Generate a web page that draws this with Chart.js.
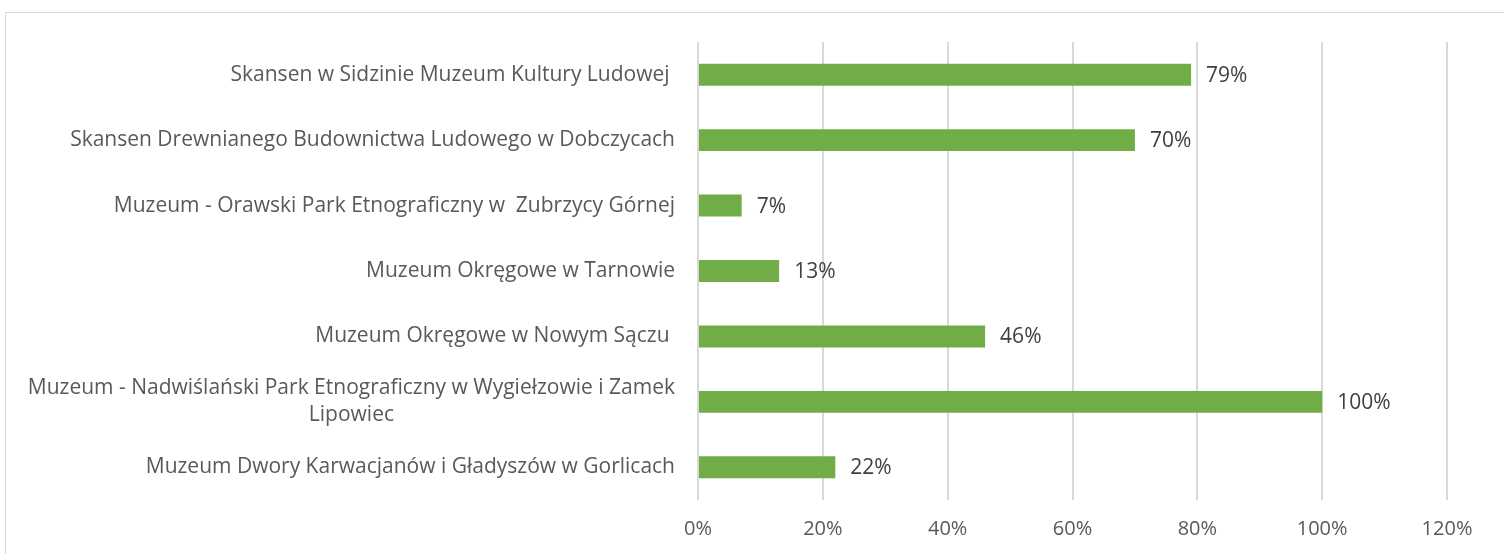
<!DOCTYPE html>
<html>
<head>
<meta charset="utf-8">
<script src="https://cdn.jsdelivr.net/npm/chart.js@4"></script>
<style>
  body { margin: 0; background: #fff; }
  #wrap { position: relative; width: 1504px; height: 554px; }
  #frame { position: absolute; left: 5px; top: 12px; width: 1500px; height: 560px; border: 1px solid #d9d9d9; pointer-events: none; }
</style>
</head>
<body>
<div id="wrap">
  <canvas id="wykres" width="1504" height="554"></canvas>
  <div id="frame"></div>
</div>
<script>
const muzea = [
    ['Skansen w Sidzinie Muzeum Kultury Ludowej '],
    ['Skansen Drewnianego Budownictwa Ludowego w Dobczycach'],
    ['Muzeum - Orawski Park Etnograficzny w  Zubrzycy Górnej'],
    ['Muzeum Okręgowe w Tarnowie'],
    ['Muzeum Okręgowe w Nowym Sączu '],
    ['Muzeum - Nadwiślański Park Etnograficzny w Wygiełzowie i Zamek', 'Lipowiec'],
    ['Muzeum Dwory Karwacjanów i Gładyszów w Gorlicach']
];
const procenty = [79, 70, 7, 13, 46, 100, 22];
const osX = [0, 20, 40, 60, 80, 100, 120];

const FONT = '21px "Open Sans"';
const TEXT = '#595959';

// etykiety kategorii: wiersze wycentrowane względem siebie, blok wyrównany do prawej
const etykietyY = {
    id: 'etykietyY',
    afterDraw(chart) {
        const ctx = chart.ctx;
        const y = chart.scales.y;
        ctx.save();
        ctx.font = FONT;
        ctx.fillStyle = TEXT;
        ctx.textBaseline = 'middle';
        ctx.textAlign = 'center';
        muzea.forEach((linie, i) => {
            const w = Math.max(...linie.map(l => ctx.measureText(l).width));
            const cx = 675 - w / 2;
            const cy = y.getPixelForValue(i);
            const lh = 27;
            linie.forEach((l, j) => {
                ctx.fillText(l, cx, cy + (j - (linie.length - 1) / 2) * lh);
            });
        });
        ctx.restore();
    }
};

const wartosci = {
    id: 'wartosci',
    afterDatasetsDraw(chart) {
        const ctx = chart.ctx;
        ctx.save();
        ctx.font = FONT;
        ctx.fillStyle = '#404040';
        ctx.textBaseline = 'middle';
        chart.getDatasetMeta(0).data.forEach((bar, i) => {
            ctx.fillText(procenty[i] + '%', bar.x + 15, bar.y + 1);
        });
        ctx.restore();
    }
};

const ctx = document.getElementById('wykres').getContext('2d');
const wykres = new Chart(ctx, {
    type: 'bar',
    data: {
        labels: muzea,
        datasets: [{
            data: procenty,
            backgroundColor: '#70ad47',
            borderWidth: 0,
            barPercentage: 0.67,
            categoryPercentage: 0.5
        }]
    },
    options: {
        indexAxis: 'y',
        responsive: false,
        animation: false,
        layout: { padding: { top: 42, right: 57, left: 0, bottom: 0 } },
        plugins: { legend: { display: false }, tooltip: { enabled: false } },
        scales: {
            x: {
                min: 0,
                max: 120,
                afterBuildTicks: s => { s.ticks = osX.map(v => ({ value: v })); },
                afterFit: s => { s.height = 54; },
                grid: { color: '#d9d9d9', lineWidth: 2, drawTicks: false },
                border: { display: false },
                ticks: {
                    padding: 17,
                    color: TEXT,
                    font: { family: 'Open Sans', size: 20 },
                    callback: v => v + '%'
                }
            },
            y: {
                afterFit: s => { s.width = 698; },
                grid: { display: false },
                border: { display: false },
                ticks: { display: false }
            }
        }
    },
    plugins: [etykietyY, wartosci]
});
</script>
</body>
</html>
